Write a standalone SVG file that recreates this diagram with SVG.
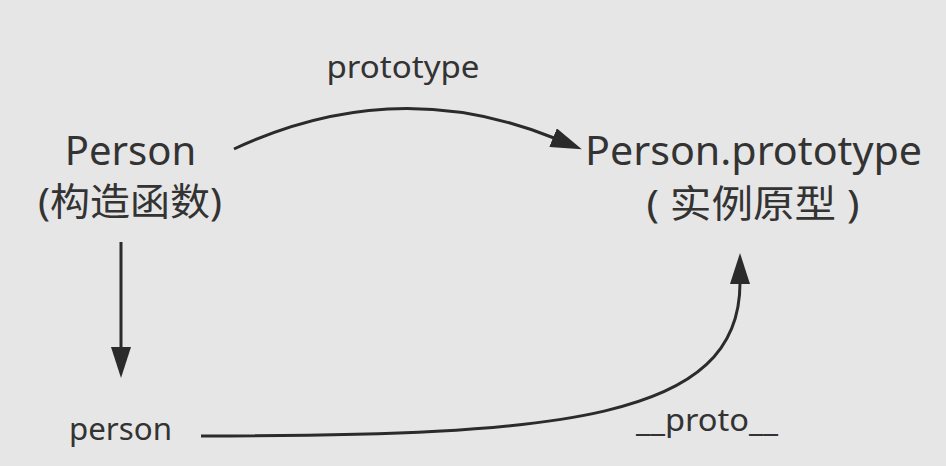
<svg xmlns="http://www.w3.org/2000/svg" width="946" height="466" viewBox="0 0 946 466">
<style>
  .t { font-family: "Noto Sans", "Noto Sans CJK SC", sans-serif; fill: #333333; }
  .big { font-size: 40px; }
  .cjk { font-size: 38px; }
  .small { font-size: 31px; }
  .edge { fill: none; stroke: #2b2b2b; stroke-width: 3; }
</style>
<defs>
  <marker id="arrow" viewBox="-1 -10 31 20" refX="0" refY="0" markerWidth="31" markerHeight="20" markerUnits="userSpaceOnUse" orient="auto">
    <path d="M-1,-10 L30,0 L-1,10 z" fill="#2b2b2b"/>
  </marker>
</defs>
<rect width="946" height="466" fill="#e6e6e6"/>
<g id="connectors">
  <path class="edge" d="M234,149 Q395,74 554,138" marker-end="url(#arrow)"/>
  <path class="edge" d="M121,242 L121,348" marker-end="url(#arrow)"/>
  <path class="edge" d="M201,436 C560,436 740,420 740,283" marker-end="url(#arrow)"/>
  <text class="t small" x="403" y="78" text-anchor="middle" textLength="153" lengthAdjust="spacingAndGlyphs">prototype</text>
  <text class="t small" x="636" y="431" textLength="142" lengthAdjust="spacingAndGlyphs">__proto__</text>
</g>
<g id="node-person-constructor">
  <text class="t big" x="130.5" y="165" text-anchor="middle">Person</text>
  <text class="t cjk" x="130" y="215" text-anchor="middle" textLength="184" lengthAdjust="spacingAndGlyphs">(构造函数)</text>
</g>
<g id="node-person-prototype">
  <text class="t big" x="585" y="165" textLength="337" lengthAdjust="spacingAndGlyphs">Person.prototype</text>
  <text class="t cjk" x="753" y="217" text-anchor="middle" textLength="213" lengthAdjust="spacingAndGlyphs">( 实例原型 )</text>
</g>
<g id="node-person-instance">
  <text class="t small" x="69" y="440" textLength="103" lengthAdjust="spacingAndGlyphs">person</text>
</g>
</svg>
